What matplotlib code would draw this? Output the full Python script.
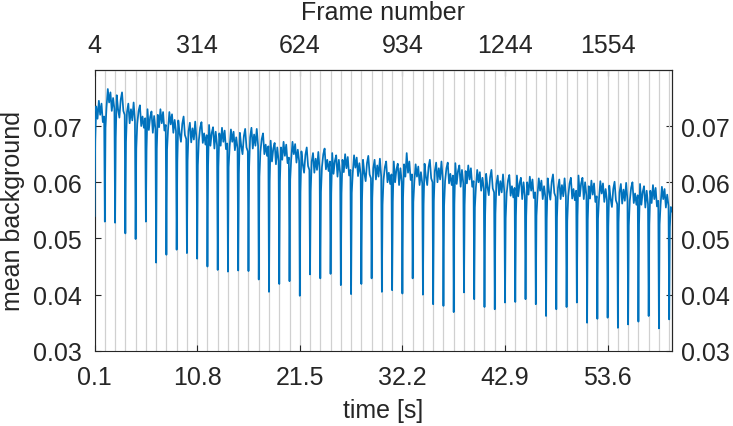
import matplotlib.pyplot as plt
import numpy as np

plt.rcParams['font.family'] = ['Liberation Sans', 'DejaVu Sans']

FPS = 29          # frames per second
FIRST_FRAME = 4   # first frame in the trace
PERIOD = 31       # frames between two stimuli

frame_ticks = [4, 314, 624, 934, 1244, 1554]
y_ticks = [0.03, 0.04, 0.05, 0.06, 0.07]

# bottom of the dip at every stimulus frame
dip_min = [0.0540, 0.0530, 0.0528, 0.0509, 0.0499, 0.0530, 0.0457, 0.0471,
           0.0480, 0.0474, 0.0464, 0.0450, 0.0444, 0.0441, 0.0443, 0.0442,
           0.0427, 0.0405, 0.0419, 0.0424, 0.0398, 0.0436, 0.0429, 0.0437,
           0.0417, 0.0401, 0.0419, 0.0429, 0.0405, 0.0408, 0.0402, 0.0429,
           0.0400, 0.0383, 0.0380, 0.0369, 0.0404, 0.0392, 0.0378, 0.0374,
           0.0386, 0.0387, 0.0392, 0.0383, 0.0362, 0.0374, 0.0378, 0.0386,
           0.0350, 0.0357, 0.0359, 0.0341, 0.0347, 0.0352, 0.0362, 0.0340,
           0.0356]

# background between dips, read at these frames after each stimulus
sample_offsets = [2, 5, 9, 13, 17, 21, 25, 29]
between = [
    [0.0675, 0.0735, 0.0713, 0.0745, 0.0720, 0.0740, 0.0707, 0.0717],
    [0.0697, 0.0732, 0.0766, 0.0742, 0.0760, 0.0727, 0.0750, 0.0730],
    [0.0680, 0.0755, 0.0730, 0.0715, 0.0747, 0.0760, 0.0727, 0.0720],
    [0.0672, 0.0725, 0.0740, 0.0705, 0.0730, 0.0710, 0.0742, 0.0710],
    [0.0660, 0.0704, 0.0727, 0.0737, 0.0700, 0.0717, 0.0697, 0.0714],
    [0.0658, 0.0730, 0.0693, 0.0716, 0.0726, 0.0688, 0.0718, 0.0694],
    [0.0660, 0.0720, 0.0698, 0.0730, 0.0705, 0.0725, 0.0692, 0.0702],
    [0.0658, 0.0693, 0.0725, 0.0703, 0.0721, 0.0688, 0.0711, 0.0691],
    [0.0637, 0.0710, 0.0687, 0.0672, 0.0704, 0.0717, 0.0684, 0.0677],
    [0.0638, 0.0691, 0.0706, 0.0671, 0.0696, 0.0676, 0.0708, 0.0676],
    [0.0630, 0.0674, 0.0697, 0.0707, 0.0670, 0.0687, 0.0667, 0.0684],
    [0.0630, 0.0702, 0.0665, 0.0688, 0.0698, 0.0660, 0.0690, 0.0666],
    [0.0627, 0.0687, 0.0665, 0.0697, 0.0672, 0.0692, 0.0659, 0.0669],
    [0.0627, 0.0662, 0.0694, 0.0672, 0.0690, 0.0657, 0.0680, 0.0660],
    [0.0615, 0.0688, 0.0665, 0.0650, 0.0682, 0.0695, 0.0662, 0.0655],
    [0.0627, 0.0680, 0.0697, 0.0660, 0.0685, 0.0665, 0.0695, 0.0665],
    [0.0610, 0.0654, 0.0677, 0.0687, 0.0650, 0.0667, 0.0647, 0.0664],
    [0.0602, 0.0674, 0.0637, 0.0660, 0.0670, 0.0632, 0.0662, 0.0638],
    [0.0602, 0.0662, 0.0640, 0.0672, 0.0647, 0.0667, 0.0634, 0.0644],
    [0.0605, 0.0640, 0.0672, 0.0650, 0.0668, 0.0635, 0.0658, 0.0638],
    [0.0582, 0.0655, 0.0632, 0.0617, 0.0649, 0.0662, 0.0629, 0.0622],
    [0.0584, 0.0637, 0.0652, 0.0617, 0.0642, 0.0622, 0.0654, 0.0622],
    [0.0583, 0.0627, 0.0650, 0.0660, 0.0623, 0.0640, 0.0620, 0.0637],
    [0.0580, 0.0652, 0.0615, 0.0638, 0.0648, 0.0610, 0.0640, 0.0616],
    [0.0580, 0.0640, 0.0618, 0.0650, 0.0625, 0.0645, 0.0612, 0.0622],
    [0.0581, 0.0616, 0.0648, 0.0626, 0.0644, 0.0611, 0.0634, 0.0614],
    [0.0567, 0.0640, 0.0617, 0.0602, 0.0634, 0.0647, 0.0614, 0.0607],
    [0.0572, 0.0625, 0.0640, 0.0605, 0.0630, 0.0610, 0.0642, 0.0610],
    [0.0560, 0.0604, 0.0627, 0.0637, 0.0600, 0.0617, 0.0597, 0.0614],
    [0.0565, 0.0637, 0.0600, 0.0623, 0.0633, 0.0595, 0.0625, 0.0601],
    [0.0572, 0.0632, 0.0610, 0.0652, 0.0617, 0.0637, 0.0604, 0.0614],
    [0.0565, 0.0600, 0.0632, 0.0610, 0.0628, 0.0595, 0.0618, 0.0598],
    [0.0560, 0.0633, 0.0610, 0.0595, 0.0627, 0.0640, 0.0607, 0.0600],
    [0.0567, 0.0620, 0.0635, 0.0600, 0.0625, 0.0605, 0.0637, 0.0605],
    [0.0558, 0.0602, 0.0625, 0.0635, 0.0598, 0.0615, 0.0595, 0.0612],
    [0.0562, 0.0634, 0.0597, 0.0620, 0.0630, 0.0592, 0.0622, 0.0598],
    [0.0560, 0.0620, 0.0598, 0.0630, 0.0605, 0.0625, 0.0592, 0.0602],
    [0.0555, 0.0590, 0.0622, 0.0600, 0.0618, 0.0585, 0.0608, 0.0588],
    [0.0542, 0.0615, 0.0592, 0.0577, 0.0609, 0.0622, 0.0589, 0.0582],
    [0.0544, 0.0597, 0.0612, 0.0577, 0.0602, 0.0582, 0.0614, 0.0582],
    [0.0536, 0.0580, 0.0603, 0.0613, 0.0576, 0.0593, 0.0573, 0.0590],
    [0.0540, 0.0612, 0.0575, 0.0598, 0.0608, 0.0570, 0.0600, 0.0576],
    [0.0540, 0.0600, 0.0578, 0.0610, 0.0585, 0.0605, 0.0572, 0.0582],
    [0.0540, 0.0575, 0.0607, 0.0585, 0.0603, 0.0570, 0.0593, 0.0573],
    [0.0534, 0.0607, 0.0584, 0.0569, 0.0601, 0.0614, 0.0581, 0.0574],
    [0.0537, 0.0590, 0.0605, 0.0570, 0.0595, 0.0575, 0.0607, 0.0575],
    [0.0531, 0.0575, 0.0598, 0.0608, 0.0571, 0.0588, 0.0568, 0.0585],
    [0.0540, 0.0612, 0.0575, 0.0598, 0.0608, 0.0570, 0.0600, 0.0576],
    [0.0533, 0.0593, 0.0571, 0.0603, 0.0578, 0.0598, 0.0565, 0.0575],
    [0.0535, 0.0570, 0.0602, 0.0580, 0.0598, 0.0565, 0.0588, 0.0568],
    [0.0521, 0.0594, 0.0571, 0.0556, 0.0588, 0.0601, 0.0568, 0.0561],
    [0.0529, 0.0582, 0.0597, 0.0562, 0.0587, 0.0567, 0.0599, 0.0567],
    [0.0523, 0.0567, 0.0590, 0.0600, 0.0563, 0.0580, 0.0560, 0.0577],
    [0.0525, 0.0597, 0.0560, 0.0583, 0.0593, 0.0555, 0.0585, 0.0561],
    [0.0525, 0.0585, 0.0563, 0.0595, 0.0570, 0.0590, 0.0557, 0.0567],
    [0.0525, 0.0560, 0.0592, 0.0570, 0.0588, 0.0555, 0.0578, 0.0558],
    [0.0520, 0.0556, 0.0548],
]

# assemble the trace frame by frame
frames, values = [], []
for k, (d, row) in enumerate(zip(dip_min, between)):
    f0 = FIRST_FRAME + PERIOD * k
    frames.append(f0)
    values.append(d)
    for off, v in zip(sample_offsets, row):
        frames.append(f0 + off)
        values.append(v)
frames = np.array(frames)
time = (frames - 1) / FPS
stim_time = (FIRST_FRAME + PERIOD * np.arange(len(dip_min)) - 1) / FPS

AX_COL = '#262626'
fig = plt.figure(figsize=(7.33, 4.27), dpi=100)
ax = fig.add_axes([0.129, 0.176, 0.788, 0.658])

for t in stim_time:
    ax.axvline(t, color='#d0d0d0', lw=0.9, zorder=1)
ax.plot(time, values, color='#0072BD', lw=1.25, zorder=3)

ax.set_xlim(time[0], time[-1])
ax.set_ylim(0.03, 0.08)
tick_t = [(f - 1) / FPS for f in frame_ticks]
ax.set_xticks(tick_t)
ax.set_xticklabels(['%.1f' % t for t in tick_t])
ax.set_yticks(y_ticks)
ax.set_yticklabels(['%.2f' % v for v in y_ticks])
ax.tick_params(direction='in', length=4.5, width=0.8, colors=AX_COL,
               labelsize=18)
ax.tick_params(axis='x', pad=10)
ax.tick_params(axis='y', pad=9)
ax.set_xlabel('time [s]', fontsize=18, color=AX_COL, labelpad=7)
ax.set_ylabel('mean background', fontsize=18, color=AX_COL, labelpad=6)
for s in ax.spines.values():
    s.set_color(AX_COL)
    s.set_linewidth(0.8)

top = ax.secondary_xaxis('top', functions=(lambda t: t * FPS + 1,
                                           lambda f: (f - 1) / FPS))
top.set_xticks(frame_ticks)
top.set_xticklabels([str(f) for f in frame_ticks])
top.tick_params(direction='in', length=4.5, width=0.8, colors=AX_COL,
                labelsize=18, pad=9)
top.set_xlabel('Frame number', fontsize=18, color=AX_COL, labelpad=10)

right = ax.secondary_yaxis('right')
right.set_yticks(y_ticks)
right.set_yticklabels(['%.2f' % v for v in y_ticks])
right.tick_params(direction='in', length=4.5, width=0.8, colors=AX_COL,
                  labelsize=18, pad=6.5)

fig.savefig('out.png', dpi=100)
